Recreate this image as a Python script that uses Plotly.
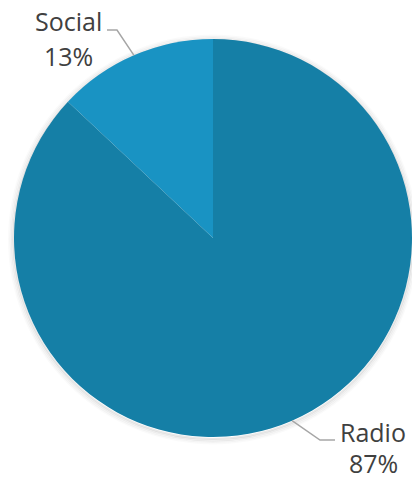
import math
import plotly.graph_objects as go

labels = ["Social", "Radio"]
values = [13, 87]
colors = ["#1993C3", "#157FA6"]
pct_text = ["13%", "87%"]

W, H = 412, 479
CX, CY, R = 213, 238, 199  # pie centre / radius in pixels

def px(x):
    return x / W

def py(y):
    return 1 - y / H

total = sum(values)
start_rot = -values[0] / total * 360  # Social sits just left of 12 o'clock

fig = go.Figure()
fig.add_trace(go.Pie(
    labels=labels, values=values, sort=False, direction="clockwise",
    rotation=start_rot, marker=dict(colors=colors, line=dict(width=0)),
    textinfo="none", hoverinfo="label+percent", showlegend=False,
    domain=dict(x=[px(CX - R), px(CX + R)], y=[py(CY + R), py(CY - R)]),
))

# soft shadow rings behind the pie
shapes = []
for i, a in enumerate([0.09, 0.06, 0.04, 0.02]):
    rr = R + 0.5 + i * 1.5
    oy = 1.5
    shapes.append(dict(type="circle", xref="paper", yref="paper", layer="below",
                       x0=px(CX - rr), x1=px(CX + rr), y0=py(CY + oy + rr), y1=py(CY + oy - rr),
                       line=dict(color=f"rgba(0,0,0,{a})", width=2)))

# leader lines computed from slice mid-angles
cum = 0
annots = []
label_pos = {"Social": (68, 21, 56, -1), "Radio": (373, 432, 463, 1)}
for lab, v, pt in zip(labels, values, pct_text):
    mid = (cum + v / 2) / total * 2 * math.pi
    cum += v
    ex = CX - R * math.sin(mid)
    ey = CY - R * math.cos(mid)
    lx, ly1, ly2, side = label_pos[lab]
    if side < 0:
        kx, ky = 117, 30
        hx = 107
    else:
        kx, ky = 320, 440
        hx = 335
    shapes.append(dict(type="path", xref="paper", yref="paper",
                       path=f"M {px(ex)},{py(ey)} L {px(kx)},{py(ky)} L {px(hx)},{py(ky)}",
                       line=dict(color="#A6A6A6", width=1.5)))
    annots.append(dict(text=lab, x=px(lx), y=py(ly1), xref="paper", yref="paper",
                       showarrow=False, xanchor="center", yanchor="middle",
                       font=dict(family="Open Sans", size=25, color="#404040")))
    annots.append(dict(text=pt, x=px(lx), y=py(ly2), xref="paper", yref="paper",
                       showarrow=False, xanchor="center", yanchor="middle",
                       font=dict(family="Open Sans", size=25, color="#404040")))

fig.update_layout(width=W, height=H, margin=dict(l=0, r=0, t=0, b=0),
                  paper_bgcolor="white", plot_bgcolor="white",
                  shapes=shapes, annotations=annots)
fig.write_html("out.html")
